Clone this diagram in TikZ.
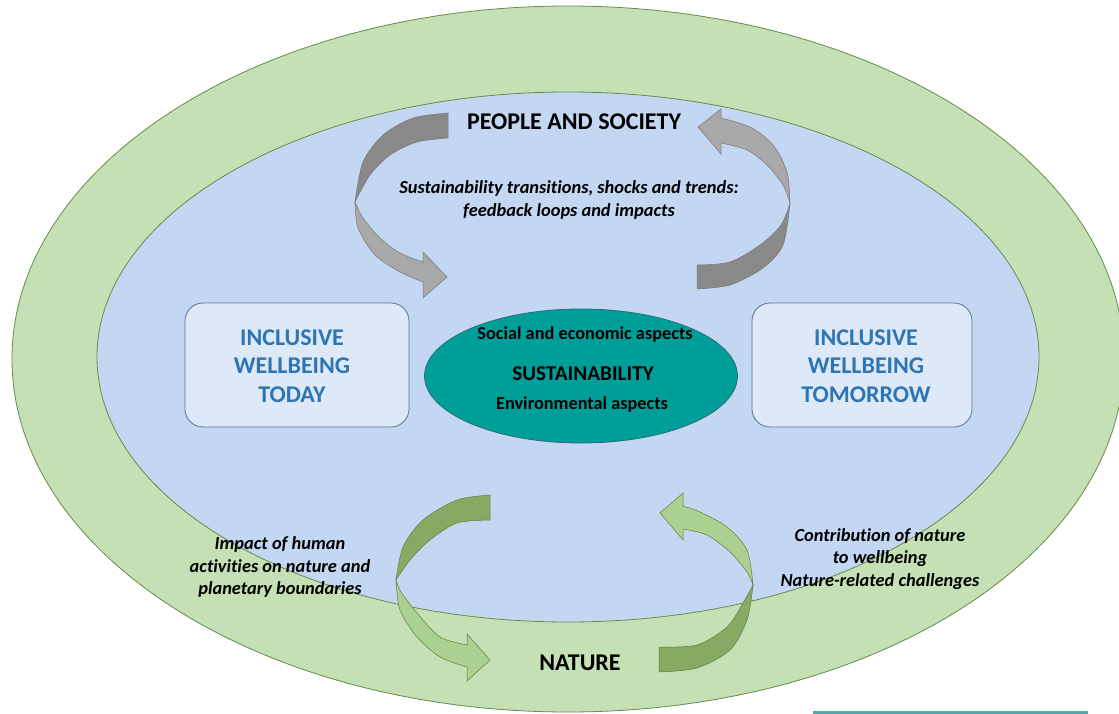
\documentclass[tikz,border=0pt]{standalone}
\usepackage{fontspec}
\setmainfont{Carlito}[Ligatures={NoCommon}]
\usetikzlibrary{shapes.geometric}
\definecolor{outergreen}{RGB}{197,224,180}
\definecolor{innerblue}{RGB}{196,215,242}
\definecolor{edgegreen}{RGB}{100,140,75}
\definecolor{boxfill}{RGB}{221,233,247}
\definecolor{boxedge}{RGB}{85,115,155}
\definecolor{boxtext}{RGB}{46,117,182}
\definecolor{sustteal}{RGB}{0,158,152}
\definecolor{tealedge}{RGB}{40,110,120}
\definecolor{grayDark}{RGB}{137,137,137}
\definecolor{grayLight}{RGB}{168,168,168}
\definecolor{grayEdge}{RGB}{120,120,120}
\definecolor{greenDark}{RGB}{133,170,100}
\definecolor{greenLight}{RGB}{170,209,143}
\definecolor{greenEdge}{RGB}{90,130,60}
\definecolor{stripteal}{RGB}{80,168,168}
\begin{document}
\begin{tikzpicture}[x=1pt,y=-1pt,
  ring/.style={ellipse, draw=edgegreen, line width=0.8pt, inner sep=0pt},
  wellbox/.style={rectangle, rounded corners=18pt, draw=boxedge, line width=0.8pt,
    fill=boxfill, minimum width=224pt, minimum height=124pt},
  welltext/.style={text=boxtext, align=center, font=\fontsize{24}{28.5}\selectfont\bfseries},
  title/.style={font=\fontsize{24}{28}\selectfont\bfseries, text=black},
  note/.style={align=center, font=\fontsize{18.4}{22.5}\selectfont\bfseries\itshape, text=black},
  inner/.style={font=\fontsize{18.3}{20}\selectfont\bfseries, text=black},
  grayback/.style={fill=grayDark, draw=grayEdge, line width=0.5pt},
  grayfront/.style={fill=grayLight, draw=grayEdge, line width=0.5pt},
  greenback/.style={fill=greenDark, draw=greenEdge, line width=0.5pt},
  greenfront/.style={fill=greenLight, draw=greenEdge, line width=0.5pt}
]
\useasboundingbox (0,0) rectangle (1119,714);
\fill[white] (0,0) rectangle (1119,714);

% rings
\node[ring, fill=outergreen, minimum width=1112pt, minimum height=706pt] (nature) at (568,359) {};
\node[ring, fill=innerblue, minimum width=942pt, minimum height=530pt] (society) at (568,357) {};

% top-left gray ribbon arrow
\path[grayback] plot[smooth] coordinates {(448,113) (413,118) (383,135) (363,162) (355,202)}
  -- plot[smooth] coordinates {(355,202) (370,175) (390,155) (417,142) (448,138)} -- cycle;
\path[grayfront] plot[smooth] coordinates {(355,202) (358,228) (375,255) (400,272) (423,282)}
  -- (423,298) -- (447,277) -- (423,252) -- (423,262)
  -- plot[smooth] coordinates {(423,262) (400,253) (380,238) (363,218) (355,202)} -- cycle;

% top-right gray ribbon arrow
\path[grayback] plot[smooth] coordinates {(697,289) (730,285) (763,268) (783,245) (790,203)}
  -- plot[smooth] coordinates {(790,203) (781,225) (760,245) (730,262) (697,265)} -- cycle;
\path[grayfront] plot[smooth] coordinates {(790,203) (787,172) (773,145) (750,127) (721,118)}
  -- (721,109) -- (698,127) -- (721,154) -- (721,143)
  -- plot[smooth] coordinates {(721,143) (747,150) (767,165) (783,185) (790,203)} -- cycle;

% bottom-left green ribbon arrow
\path[greenback] plot[smooth] coordinates {(490,495) (457,500) (423,520) (403,547) (396,580)}
  -- plot[smooth] coordinates {(396,580) (410,560) (430,540) (457,523) (490,520)} -- cycle;
\path[greenfront] plot[smooth] coordinates {(396,580) (400,610) (417,637) (440,657) (467,667)}
  -- (467,681) -- (490,660) -- (467,634) -- (467,645)
  -- plot[smooth] coordinates {(467,645) (440,637) (417,613) (401,592) (396,580)} -- cycle;

% bottom-right green ribbon arrow
\path[greenback] plot[smooth] coordinates {(659,672) (697,668) (730,650) (747,620) (753,585)}
  -- plot[smooth] coordinates {(753,585) (743,603) (727,627) (697,645) (659,647)} -- cycle;
\path[greenfront] plot[smooth] coordinates {(753,585) (747,550) (727,527) (700,512) (683,506)}
  -- (683,493) -- (660,513) -- (683,540) -- (683,529)
  -- plot[smooth] coordinates {(683,529) (707,535) (730,552) (747,572) (753,585)} -- cycle;

% boxes
\node[wellbox] (today) at (297,365) {};
\node[welltext] (todaytext) at (292,366) {INCLUSIVE\\WELLBEING\\TODAY};
\node[wellbox, minimum width=220pt] (tomorrow) at (862,365) {};
\node[welltext] (tomorrowtext) at (866,366) {INCLUSIVE\\WELLBEING\\TOMORROW};

% central ellipse
\node[ellipse, fill=sustteal, draw=tealedge, line width=0.8pt, minimum width=313pt, minimum height=134pt] (sust) at (581,376) {};
\node[inner] (social) at (585,335) {Social and economic aspects};
\node[font=\fontsize{21.2}{24}\selectfont\bfseries] (sustlabel) at (583,374) {SUSTAINABILITY};
\node[inner] (env) at (582,405) {Environmental aspects};

% titles and notes
\node[title] (people) at (574,122) {PEOPLE AND SOCIETY};
\node[note] (trans) at (569,200) {Sustainability transitions, shocks and trends:\\feedback loops and impacts};
\node[title] (naturelabel) at (580,663) {NATURE};
\node[note] (impact) at (280,567) {Impact of human\\activities on nature and\\planetary boundaries};
\node[note] (contrib) at (880,559) {Contribution of nature\\to wellbeing\\Nature-related challenges};

% strip at bottom right
\fill[stripteal] (813,711) rectangle (1088,714);
\end{tikzpicture}
\end{document}
